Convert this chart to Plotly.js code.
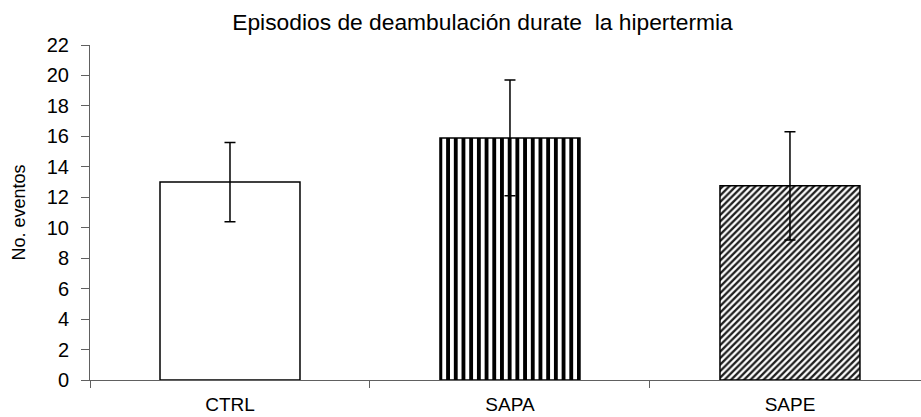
<!DOCTYPE html>
<html>
<head>
<meta charset="utf-8">
<script src="https://cdn.plot.ly/plotly-3.0.1.min.js"></script>
<style>html,body{margin:0;padding:0;background:#fff;}#chart{width:921px;height:417px;}</style>
</head>
<body>
<div id="chart"></div>
<script>
const categories = ["CTRL", "SAPA", "SAPE"];
const means = [13.0, 15.9, 12.75];
const errors = [2.6, 3.8, 3.55];
const yTicks = [0, 2, 4, 6, 8, 10, 12, 14, 16, 18, 20, 22];
const title = "Episodios de deambulación durate  la hipertermia";
const yTitle = "No. eventos";

const FONT = "Liberation Sans, Arial, sans-serif";

const patterns = [
  {shape: "", fgcolor: "#000000", size: 8, solidity: 0.3},
  {shape: "|", fgcolor: "#000000", size: 7.7, solidity: 0.5},
  {shape: "/", fgcolor: "#1e1e1e", size: 4.6, solidity: 0.5}
];

const traces = categories.map((c, i) => ({
  type: "bar",
  x: [c],
  y: [means[i]],
  width: 0.5,
  marker: {
    color: "#ffffff",
    line: {color: "#000000", width: 1.5},
    pattern: patterns[i].shape ? {
      shape: patterns[i].shape,
      fgcolor: patterns[i].fgcolor,
      bgcolor: "#ffffff",
      size: patterns[i].size,
      solidity: patterns[i].solidity
    } : undefined
  },
  error_y: {
    type: "data",
    array: [errors[i]],
    visible: true,
    color: "#000000",
    thickness: 1.5,
    width: 5.5
  },
  hoverinfo: "none"
}));

const layout = {
  width: 921,
  height: 417,
  paper_bgcolor: "#ffffff",
  plot_bgcolor: "#ffffff",
  margin: {l: 90, r: 0, t: 45, b: 37, pad: 0},
  showlegend: false,
  barmode: "overlay",
  title: {
    text: title,
    font: {family: FONT, size: 22.8, color: "#000000"},
    x: 482.5 / 921, xanchor: "center",
    y: 1 - 22 / 417, yanchor: "middle"
  },
  xaxis: {
    type: "category",
    range: [-0.5, 2.468],
    tickson: "boundaries",
    ticks: "outside",
    ticklen: 7,
    tickwidth: 1,
    tickcolor: "#606060",
    showline: true,
    linecolor: "#606060",
    linewidth: 1,
    showgrid: false,
    zeroline: false,
    tickfont: {family: FONT, size: 19, color: "#000000"},
    ticklabelstandoff: 7,
    fixedrange: true
  },
  yaxis: {
    range: [0, 22],
    tickvals: yTicks,
    ticktext: yTicks.map(String),
    ticks: "outside",
    ticklen: 8,
    tickwidth: 1,
    tickcolor: "#606060",
    showline: true,
    linecolor: "#606060",
    linewidth: 1,
    showgrid: false,
    zeroline: false,
    tickfont: {family: FONT, size: 20, color: "#000000"},
    ticklabelstandoff: 8,
    title: {text: yTitle, font: {family: FONT, size: 18, color: "#000000"}, standoff: 16},
    fixedrange: true
  }
};

Plotly.newPlot("chart", traces, layout, {staticPlot: true, displayModeBar: false});
</script>
</body>
</html>
